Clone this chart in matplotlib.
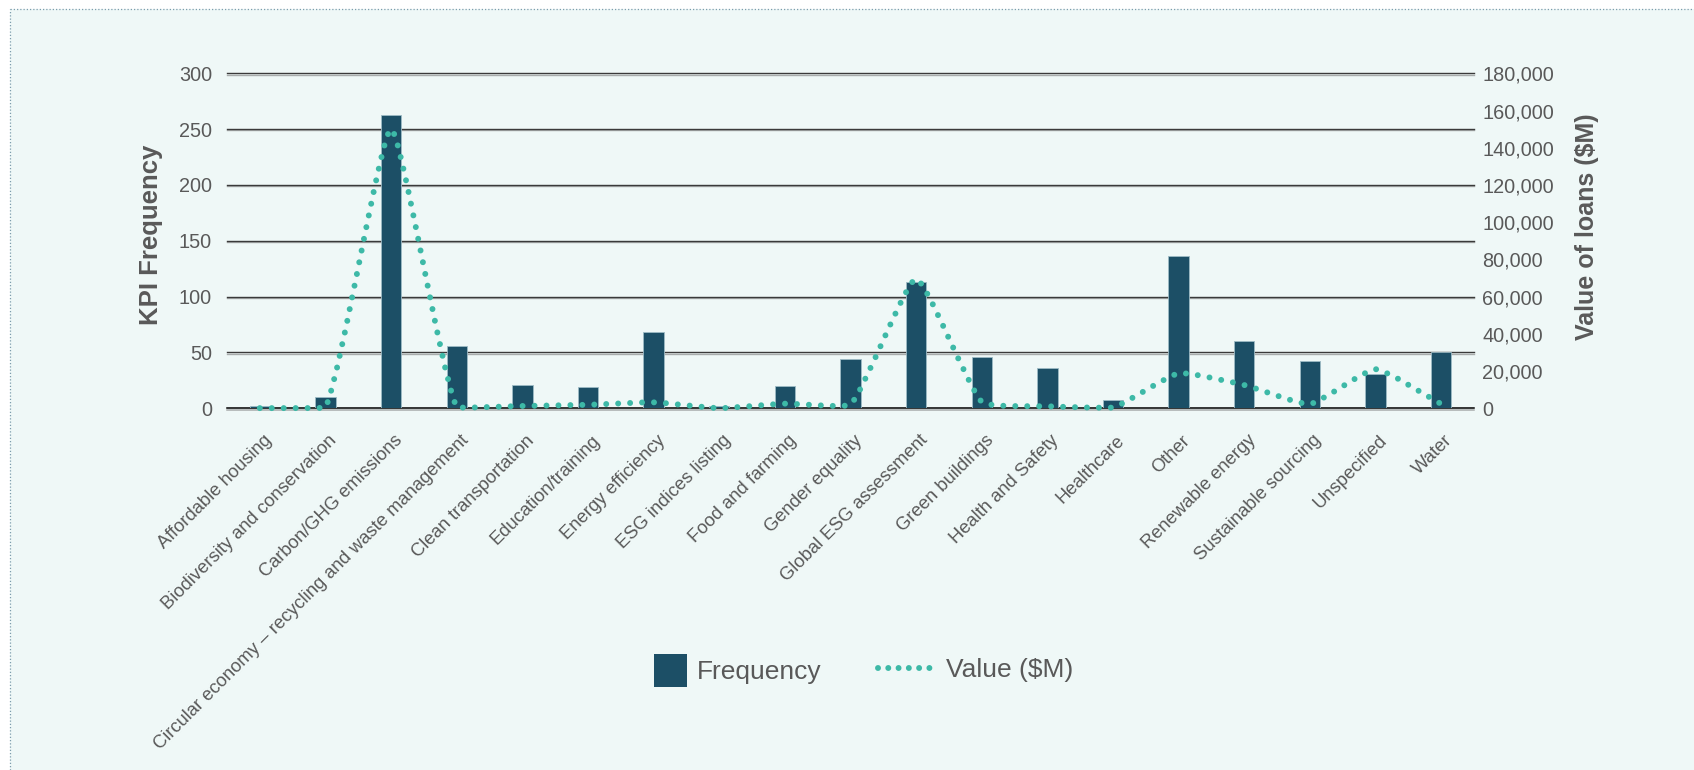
import numpy as np
import matplotlib
matplotlib.use("Agg")
import matplotlib.pyplot as plt
from matplotlib.path import Path
from matplotlib.patches import PathPatch, Rectangle
from matplotlib.lines import Line2D
from matplotlib.legend_handler import HandlerPatch
import matplotlib.patheffects as pe
from matplotlib.ticker import FuncFormatter
from matplotlib.transforms import ScaledTranslation

# ---------------------------------------------------------------- data
categories = [
    "Affordable housing",
    "Biodiversity and conservation",
    "Carbon/GHG emissions",
    "Circular economy \u2013 recycling and waste management",
    "Clean transportation",
    "Education/training",
    "Energy efficiency",
    "ESG indices listing",
    "Food and farming",
    "Gender equality",
    "Global ESG assessment",
    "Green buildings",
    "Health and Safety",
    "Healthcare",
    "Other",
    "Renewable energy",
    "Sustainable sourcing",
    "Unspecified",
    "Water",
]
frequency = [2, 10, 263, 56, 21, 19, 68, 2, 20, 44, 113, 46, 36, 7, 136, 60, 42, 31, 50]
value_musd = [100, 300, 150000, 500, 1250, 1900, 3200, 100, 2500, 2000,
              69500, 3500, 1100, 400, 18800, 12500, 2300, 21000, 2300]

freq_ticks = [0, 50, 100, 150, 200, 250, 300]
value_ticks = [0, 20000, 40000, 60000, 80000, 100000, 120000, 140000, 160000, 180000]

# ---------------------------------------------------------------- style
BG = "#EFF8F7"
BAR = "#1C4F66"
DOT = "#3DB9A7"
TXT = "#595959"
GRID = "#3a3a3a"
plt.rcParams["font.family"] = ["Liberation Sans", "DejaVu Sans"]

W, H, DPI = 1694, 770, 100
fig = plt.figure(figsize=(W / DPI, H / DPI), dpi=DPI, facecolor="white")

# panel background with dotted top/left border
fig.patches.append(Rectangle((9.5 / W, 0), 1 - 9.5 / W, 1 - 8.5 / H,
                             transform=fig.transFigure, facecolor=BG,
                             edgecolor="none", zorder=-10))
border_kw = dict(transform=fig.transFigure, color="#7d9dad", lw=0.9,
                 linestyle=(0, (1, 1.6)), zorder=-5)
fig.lines.append(Line2D([9.5 / W, 1], [1 - 8.5 / H] * 2, **border_kw))
fig.lines.append(Line2D([9.5 / W] * 2, [0, 1 - 8.5 / H], **border_kw))

# ---------------------------------------------------------------- axes
left, right, top, bottom = 227, 1474, 73.3, 408.3
ax = fig.add_axes([left / W, 1 - bottom / H, (right - left) / W, (bottom - top) / H])
ax.set_facecolor("none")
ax2 = ax.twinx()
for a in (ax, ax2):
    for s in a.spines.values():
        s.set_visible(False)

x = np.arange(len(categories))
ax.set_xlim(-0.5, len(categories) - 0.5)
ax.set_ylim(freq_ticks[0], freq_ticks[-1])
ax2.set_ylim(value_ticks[0], value_ticks[-1])

# horizontal gridlines with a soft shadow underneath
for v in freq_ticks:
    ax.axhline(v, color="black" if v == 0 else GRID, lw=1.1 if v == 0 else 1.0,
               zorder=1, clip_on=False,
               path_effects=[pe.SimpleLineShadow(offset=(0, -0.9), shadow_color="#a8acac",
                                                 alpha=1.0), pe.Normal()])

ax.bar(x, frequency, width=0.31, color=BAR, edgecolor="#9dbbc5", linewidth=0.6, zorder=3)

# ticks and labels
ax.set_yticks(freq_ticks)
ax.tick_params(axis="y", length=0, pad=10.8, labelsize=14.3, labelcolor=TXT)
ax2.set_yticks(value_ticks)
ax2.yaxis.set_major_formatter(FuncFormatter(lambda v, _: f"{v:,.0f}"))
ax2.tick_params(axis="y", length=0, pad=5.8, labelsize=14.3, labelcolor=TXT)

ax.set_xticks(x)
ax.set_xticklabels(categories, rotation=45, ha="right", va="top",
                   rotation_mode="anchor", fontsize=13.2, color=TXT)
ax.tick_params(axis="x", length=0, pad=17)
shift = ScaledTranslation(3 / DPI, 0, fig.dpi_scale_trans)
for lab in ax.get_xticklabels():
    lab.set_transform(lab.get_transform() + shift)

ax.set_ylabel("KPI Frequency", fontsize=18.5, fontweight="bold", color=TXT)
ax.yaxis.set_label_coords(-0.0513, 0.518)
ax2.set_ylabel("Value of loans ($M)", fontsize=18, fontweight="bold", color=TXT)
ax2.yaxis.set_label_coords(1.081, 0.542)

# ---------------------------------------------------------------- smoothed value line
def smooth_path(axis, xs, ys, tension=0.15):
    trans = axis.transData
    pts = trans.transform(np.column_stack([xs, ys]))
    n = len(pts)
    prev_cp = np.zeros_like(pts)
    next_cp = np.zeros_like(pts)
    for i in range(n):
        p0 = pts[i - 1] if i > 0 else pts[i]
        p1 = pts[i]
        p2 = pts[i + 1] if i < n - 1 else pts[i]
        d01 = np.hypot(*(p1 - p0))
        d12 = np.hypot(*(p2 - p1))
        tot = d01 + d12
        s01 = d01 / tot if tot else 0.0
        s12 = d12 / tot if tot else 0.0
        prev_cp[i] = p1 - tension * s01 * (p2 - p0)
        next_cp[i] = p1 + tension * s12 * (p2 - p0)
    # keep control points inside the plotting area
    bb = axis.bbox
    for cp in (prev_cp, next_cp):
        cp[:, 0] = np.clip(cp[:, 0], bb.x0, bb.x1)
        cp[:, 1] = np.clip(cp[:, 1], bb.y0, bb.y1)
    verts = [pts[0]]
    codes = [Path.MOVETO]
    for i in range(n - 1):
        verts += [next_cp[i], prev_cp[i + 1], pts[i + 1]]
        codes += [Path.CURVE4] * 3
    inv = trans.inverted()
    return Path(inv.transform(np.array(verts)), codes)

curve = smooth_path(ax2, x, value_musd)
ax2.add_patch(PathPatch(curve, facecolor="none", edgecolor=DOT, lw=4.3,
                        linestyle=(0, (0.001, 2.0)), capstyle="round",
                        transform=ax2.transData, clip_on=False, zorder=5))

# ---------------------------------------------------------------- legend
SQ_W, SQ_H = 33, 33


def square_handle(legend, orig_handle, xdescent, ydescent, width, height, fontsize):
    w, h = SQ_W * 72 / DPI, SQ_H * 72 / DPI
    return Rectangle((-xdescent, -ydescent + (height - h) / 2), w, h)


LFS = 19
LEG_Y = 1 - 670.5 / H
bar_handle = Rectangle((0, 0), 1, 1, facecolor=BAR, edgecolor="none")
leg1 = fig.legend([bar_handle], ["Frequency"], loc="center left",
                  bbox_to_anchor=(653.6 / W, LEG_Y), frameon=False,
                  fontsize=LFS, labelcolor=TXT, borderpad=0, borderaxespad=0,
                  handlelength=SQ_W * 0.72 / LFS, handleheight=SQ_H * 0.72 / LFS,
                  handletextpad=10.5 * 0.72 / LFS,
                  handler_map={Rectangle: HandlerPatch(patch_func=square_handle)})
line_handle = Line2D([], [], color=DOT, lw=4.3, linestyle=(0, (0.001, 1.72)),
                     dash_capstyle="round")
leg2 = fig.legend([line_handle], ["Value ($M)"], loc="center left",
                  bbox_to_anchor=(877.5 / W, LEG_Y), frameon=False,
                  fontsize=LFS, labelcolor=TXT, borderpad=0, borderaxespad=0,
                  handlelength=55 * 0.72 / LFS, handletextpad=13.5 * 0.72 / LFS)

fig.savefig("out.png", dpi=DPI, facecolor=fig.get_facecolor())
